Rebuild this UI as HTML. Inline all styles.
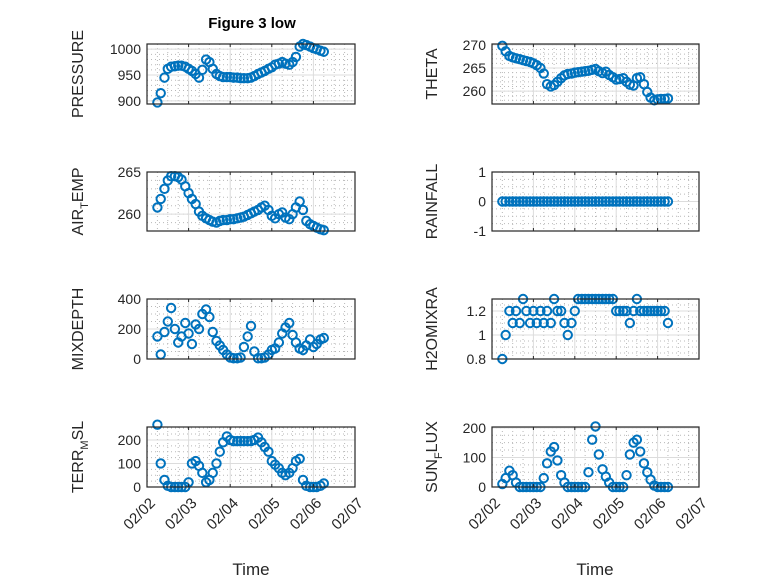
<!DOCTYPE html>
<html><head><meta charset="utf-8"><style>
body{margin:0;background:#fff}
svg{display:block;font-family:"Liberation Sans",sans-serif}
</style></head><body>
<svg id="fig" width="778" height="583" viewBox="0 0 778 583" xmlns="http://www.w3.org/2000/svg">
<rect width="778" height="583" fill="#fff"/>
<text x="252" y="28" font-size="15" font-weight="bold" text-anchor="middle" fill="#000">Figure 3 low</text>
<text x="251" y="575" font-size="17" text-anchor="middle" fill="#262626">Time</text>
<text x="595" y="575" font-size="17" text-anchor="middle" fill="#262626">Time</text>
<g id="plots"></g>
</svg>
<script>
// time in days after 02/02 00:00
const timeDays=[0.25,0.33,0.42,0.5,0.58,0.67,0.75,0.83,0.92,1.0,1.08,1.17,1.25,1.33,1.42,1.5,1.58,1.67,1.75,1.83,1.92,2.0,2.08,2.17,2.25,2.33,2.42,2.5,2.58,2.67,2.75,2.83,2.92,3.0,3.08,3.17,3.25,3.33,3.42,3.5,3.58,3.67,3.75,3.83,3.92,4.0,4.08,4.17,4.25];
const xTickLabels=["02/02","02/03","02/04","02/05","02/06","02/07"];
const pressure=[897,915,945,962,966,967,968,968,966,962,958,952,945,960,980,975,962,952,948,946,946,946,945,945,944,944,944,945,948,952,955,958,962,965,970,972,975,972,970,975,985,1005,1010,1008,1005,1002,1000,997,995];
const theta=[269.8,268.6,267.6,267.3,267.1,266.9,266.7,266.5,266.3,266,265.6,265.0,263.8,261.5,261.0,261.3,262.0,262.8,263.4,263.7,263.8,264,264.1,264.2,264.3,264.4,264.6,264.8,264.3,263.9,264.2,263.5,263,262.5,262.6,262.8,262.0,261.4,261.2,262.8,263,261.5,259.8,258.6,258.0,258.2,258.3,258.3,258.4];
const airTemp=[260.8,261.8,263,264,264.5,264.5,264.4,264.1,263.3,262.5,261.8,261.2,260.3,259.8,259.5,259.3,259.1,259.0,259.2,259.3,259.3,259.4,259.4,259.5,259.6,259.7,259.9,260.1,260.3,260.5,260.8,261.0,260.5,259.8,259.5,260.0,260.2,259.6,259.4,260.0,260.8,261.5,260.5,259.2,258.8,258.6,258.4,258.2,258.1];
const rainfall=[0,0,0,0,0,0,0,0,0,0,0,0,0,0,0,0,0,0,0,0,0,0,0,0,0,0,0,0,0,0,0,0,0,0,0,0,0,0,0,0,0,0,0,0,0,0,0,0,0];
const mixDepth=[150,30,180,250,340,200,110,150,240,170,100,230,200,300,330,280,180,120,90,60,30,10,5,5,10,80,150,220,50,5,5,10,30,60,70,110,170,210,240,160,110,70,60,90,130,80,100,130,140];
const h2oMix=[0.8,1.0,1.2,1.1,1.2,1.1,1.3,1.2,1.1,1.2,1.1,1.2,1.1,1.2,1.1,1.3,1.2,1.2,1.1,1.0,1.1,1.2,1.3,1.3,1.3,1.3,1.3,1.3,1.3,1.3,1.3,1.3,1.3,1.2,1.2,1.2,1.2,1.1,1.2,1.3,1.2,1.2,1.2,1.2,1.2,1.2,1.2,1.2,1.1];
const terrMsl=[265,100,30,5,0,0,0,0,0,20,100,110,90,60,20,30,60,100,150,190,215,200,195,195,195,195,195,195,200,210,190,170,150,110,95,80,60,50,60,80,110,120,30,5,0,0,0,5,15];
const sunFlux=[10,30,55,40,15,0,0,0,0,0,0,0,30,80,120,135,90,40,15,0,0,0,0,0,0,50,160,205,110,60,35,15,0,0,0,0,40,110,150,160,120,80,50,25,5,0,0,0,0];
const ticksPressure=[900,950,1000], ticksTheta=[260,265,270], ticksAir=[260,265], ticksRain=[-1,0,1], ticksMix=[0,200,400], ticksH2o=[0.8,1,1.2], ticksTerr=[0,100,200], ticksSun=[0,100,200];

const NS="http://www.w3.org/2000/svg";
const root=document.getElementById('plots');
function mk(tag,attrs,parent){const e=document.createElementNS(NS,tag);for(const k in attrs)e.setAttribute(k,attrs[k]);(parent||root).appendChild(e);return e;}
const cols={L:[147,355],R:[492,699]};
const rows=[[44,104],[172,231],[299,359],[427,487]];
const panels=[
 {name:'pressure',col:'L',row:0,data:pressure,ylim:[894,1010],ticks:ticksPressure,minor:10,label:['PRESSURE']},
 {name:'theta',col:'R',row:0,data:theta,ylim:[257.2,270.2],ticks:ticksTheta,minor:1,label:['THETA']},
 {name:'air-temp',col:'L',row:1,data:airTemp,ylim:[258,265],ticks:ticksAir,minor:1,label:['AIR','T','EMP']},
 {name:'rainfall',col:'R',row:1,data:rainfall,ylim:[-1,1],ticks:ticksRain,minor:0.25,label:['RAINFALL']},
 {name:'mixdepth',col:'L',row:2,data:mixDepth,ylim:[0,400],ticks:ticksMix,minor:50,label:['MIXDEPTH']},
 {name:'h2omixra',col:'R',row:2,data:h2oMix,ylim:[0.8,1.3],ticks:ticksH2o,minor:0.05,label:['H2OMIXRA']},
 {name:'terr-msl',col:'L',row:3,data:terrMsl,ylim:[0,255],ticks:ticksTerr,minor:25,label:['TERR','M','SL']},
 {name:'sun-flux',col:'R',row:3,data:sunFlux,ylim:[0,203],ticks:ticksSun,minor:25,label:['SUN','F','LUX']}
];
panels.forEach(p=>{
 const [x0,x1]=cols[p.col],[y0,y1]=rows[p.row];
 const xs=d=>x0+(x1-x0)*d/5;
 const ys=v=>y1-(y1-y0)*(v-p.ylim[0])/(p.ylim[1]-p.ylim[0]);
 const g=mk('g',{});
 
 
 for(let d=0.25;d<5;d+=0.25){ if(Math.abs(d-Math.round(d))<1e-6)continue;
  mk('line',{x1:xs(d),x2:xs(d),y1:y0,y2:y1,stroke:'#b8b8b8','stroke-width':1,'stroke-dasharray':'1,3'},g);}
 for(let v=Math.ceil(p.ylim[0]/p.minor)*p.minor;v<=p.ylim[1];v+=p.minor){
  mk('line',{x1:x0,x2:x1,y1:ys(v),y2:ys(v),stroke:'#b8b8b8','stroke-width':1,'stroke-dasharray':'1,3'},g);}
 for(let d=1;d<5;d++) mk('line',{x1:xs(d),x2:xs(d),y1:y0,y2:y1,stroke:'#dcdcdc','stroke-width':1},g);
 p.ticks.forEach(v=>{mk('line',{x1:x0,x2:x1,y1:ys(v),y2:ys(v),stroke:'#dcdcdc','stroke-width':1},g);});
 p.data.forEach((v,i)=>{
  const c=mk('circle',{cx:xs(timeDays[i]),cy:ys(v),r:4.2,fill:'none',stroke:'#0072BD','stroke-width':2},g);
  
  
 });
 mk('rect',{x:x0,y:y0,width:x1-x0,height:y1-y0,fill:'none',stroke:'#262626','stroke-width':1.2},g);
 for(let d=0;d<=5;d++){mk('line',{x1:xs(d),x2:xs(d),y1:y1,y2:y1-3,stroke:'#262626'},g);mk('line',{x1:xs(d),x2:xs(d),y1:y0,y2:y0+3,stroke:'#262626'},g);}
 p.ticks.forEach(v=>{
  const t=mk('text',{x:x0-6,y:ys(v)+5,'font-size':14,'text-anchor':'end',fill:'#262626'},g);
  t.textContent=String(v);
  
  
 });
 if(p.row===3){
  xTickLabels.forEach((s,d)=>{
   const t=mk('text',{x:0,y:0,'font-size':15,'text-anchor':'end',fill:'#262626',transform:`translate(${xs(d)+9},${y1+17}) rotate(-45)`},g);
   t.textContent=s;
   
   
  });
 }
 const lx=p.col==='L'?83:437, ly=(y0+y1)/2;
 const yl=mk('text',{x:0,y:0,'font-size':16,'text-anchor':'middle',fill:'#262626',transform:`translate(${lx},${ly}) rotate(-90)`},g);
 
 
 if(p.label.length===1){yl.textContent=p.label[0];}
 else{
  const a=document.createElementNS(NS,'tspan');a.textContent=p.label[0];yl.appendChild(a);
  const b=document.createElementNS(NS,'tspan');b.textContent=p.label[1];b.setAttribute('font-size','11');b.setAttribute('dy','5');yl.appendChild(b);
  const c=document.createElementNS(NS,'tspan');c.textContent=p.label[2];c.setAttribute('dy','-5');yl.appendChild(c);
 }
});
</script>
</body></html>
